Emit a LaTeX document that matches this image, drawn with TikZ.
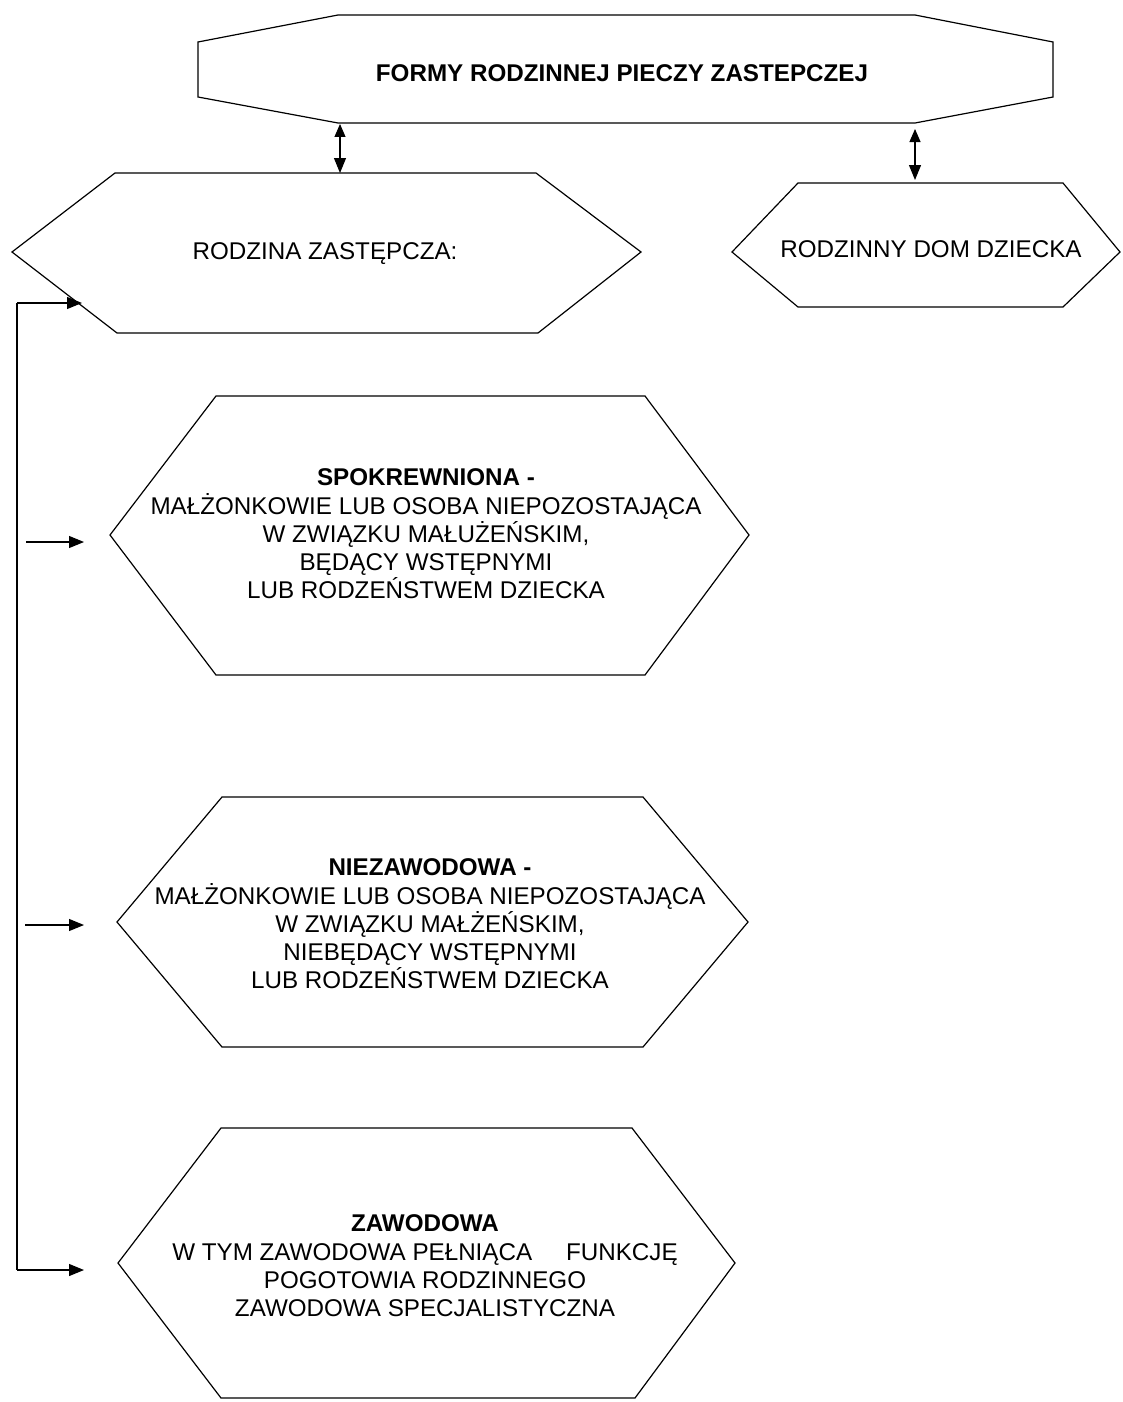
\documentclass[tikz,border=0pt]{standalone}
\usepackage{fontspec}
\setmainfont{Liberation Sans}
\usetikzlibrary{arrows.meta}
\tikzset{
  outline/.style={draw=black, line width=1.2pt, line join=miter},
  label/.style={align=center, inner sep=0pt, font=\fontsize{24.2}{28.3}\selectfont},
  conn/.style={line width=1.1pt, -{Triangle[length=15pt,width=12pt]}},
  twoway/.style={line width=1.1pt, {Triangle[length=13pt,width=11pt]}-{Triangle[length=15pt,width=12pt]}},
}
\begin{document}
\begin{tikzpicture}[x=1pt,y=-1pt]
\useasboundingbox (0,0) rectangle (1123,1402);
\fill[white] (0,0) rectangle (1123,1402);

% shapes
\draw[outline] (198,42) -- (338,15) -- (915,15) -- (1053,42) -- (1053,97) -- (915,123) -- (338,123) -- (198,97) -- cycle;
\draw[outline] (12,252) -- (115,173) -- (536,173) -- (641,252) -- (538,333) -- (117,333) -- cycle;
\draw[outline] (732,252) -- (798,183) -- (1063,183) -- (1120,252) -- (1063,307) -- (798,307) -- cycle;
\draw[outline] (110,535) -- (216,396) -- (645,396) -- (749,535) -- (645,675) -- (216,675) -- cycle;
\draw[outline] (117,922) -- (222,797) -- (643,797) -- (748,922) -- (643,1047) -- (222,1047) -- cycle;
\draw[outline] (118,1263) -- (221,1128) -- (632,1128) -- (735,1263) -- (635,1398) -- (221,1398) -- cycle;

% texts
\node[label] (title) at (622,73) {\textbf{FORMY RODZINNEJ PIECZY ZASTEPCZEJ}};
\node[label] (rz) at (325,254) {RODZINA ZASTĘPCZA:};
\node[label] (rdd) at (931,249) {RODZINNY DOM DZIECKA};
\node[label] (spok) at (426,534) {\textbf{SPOKREWNIONA -}\\MAŁŻONKOWIE LUB OSOBA NIEPOZOSTAJĄCA\\W ZWIĄZKU MAŁUŻEŃSKIM,\\BĘDĄCY WSTĘPNYMI\\LUB RODZEŃSTWEM DZIECKA};
\node[label] (niez) at (430,924) {\textbf{NIEZAWODOWA -}\\MAŁŻONKOWIE LUB OSOBA NIEPOZOSTAJĄCA\\W ZWIĄZKU MAŁŻEŃSKIM,\\NIEBĘDĄCY WSTĘPNYMI\\LUB RODZEŃSTWEM DZIECKA};
\node[label] (zaw) at (425,1266) {\textbf{ZAWODOWA}\\W TYM ZAWODOWA PEŁNIĄCA\hspace{1.4em}FUNKCJĘ\\POGOTOWIA RODZINNEGO\\ZAWODOWA SPECJALISTYCZNA};

% connection points
\coordinate (t-l) at (340,124);
\coordinate (rz-top) at (340,173);
\coordinate (t-r) at (915,129);
\coordinate (rdd-top) at (915,180);
\coordinate (corner-top) at (17,303);
\coordinate (corner-bot) at (17,1270);
\coordinate (rz-in) at (82,303);
\coordinate (sp-start) at (26,542);
\coordinate (sp-in) at (84,542);
\coordinate (nz-start) at (25,925);
\coordinate (nz-in) at (84,925);
\coordinate (zw-in) at (84,1270);

% connectors
\draw[twoway] (t-l) -- (rz-top);
\draw[twoway] (t-r) -- (rdd-top);
\draw[line width=1.1pt] (corner-top) -- (corner-bot);
\draw[conn] (corner-top) -- (rz-in);
\draw[conn] (sp-start) -- (sp-in);
\draw[conn] (nz-start) -- (nz-in);
\draw[conn] (corner-bot) -- (zw-in);
\end{tikzpicture}
\end{document}
